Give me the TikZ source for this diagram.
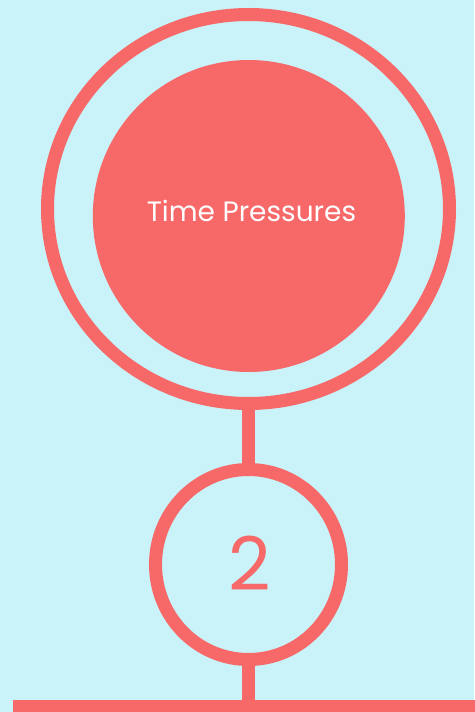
\documentclass[tikz,border=0pt]{standalone}
\usepackage{fontspec}
\setmainfont{Poppins}
\usetikzlibrary{shapes.geometric}
\definecolor{coral}{HTML}{F76868}
\definecolor{bgcyan}{HTML}{C9F3F8}
\tikzset{
  ring/.style={draw=coral, line width=13pt, ellipse, inner sep=0pt},
  disc/.style={fill=coral, circle, inner sep=0pt, minimum size=312pt},
  conn/.style={draw=coral, line width=13pt},
  lbl/.style={inner sep=0pt, anchor=base}
}
\begin{document}
\begin{tikzpicture}[x=1pt,y=-1pt]
\fill[bgcyan] (0,0) rectangle (474,712);
\useasboundingbox (0,0) rectangle (474,712);
\node[ring, minimum width=402pt, minimum height=389pt] (outer) at (248.5,209) {};
\node[disc] (inner) at (248.8,216) {};
\node[lbl, text=white, font=\fontsize{28}{32}\selectfont] (title) at (251.5,221) {Time Pressures};
\node[ring, minimum width=186pt, minimum height=190pt] (small) at (248.5,564.5) {};
\node[lbl, text=coral, font=\fontsize{74}{80}\selectfont] (num) at (250,590.7) {2};
\node[fill=coral, inner sep=0pt, minimum width=470pt, minimum height=12pt] (bar) at (248,706) {};
\draw[conn] (outer.south) -- (small.north);
\draw[conn] (small.south) -- (small.south |- bar.north);
\end{tikzpicture}
\end{document}
